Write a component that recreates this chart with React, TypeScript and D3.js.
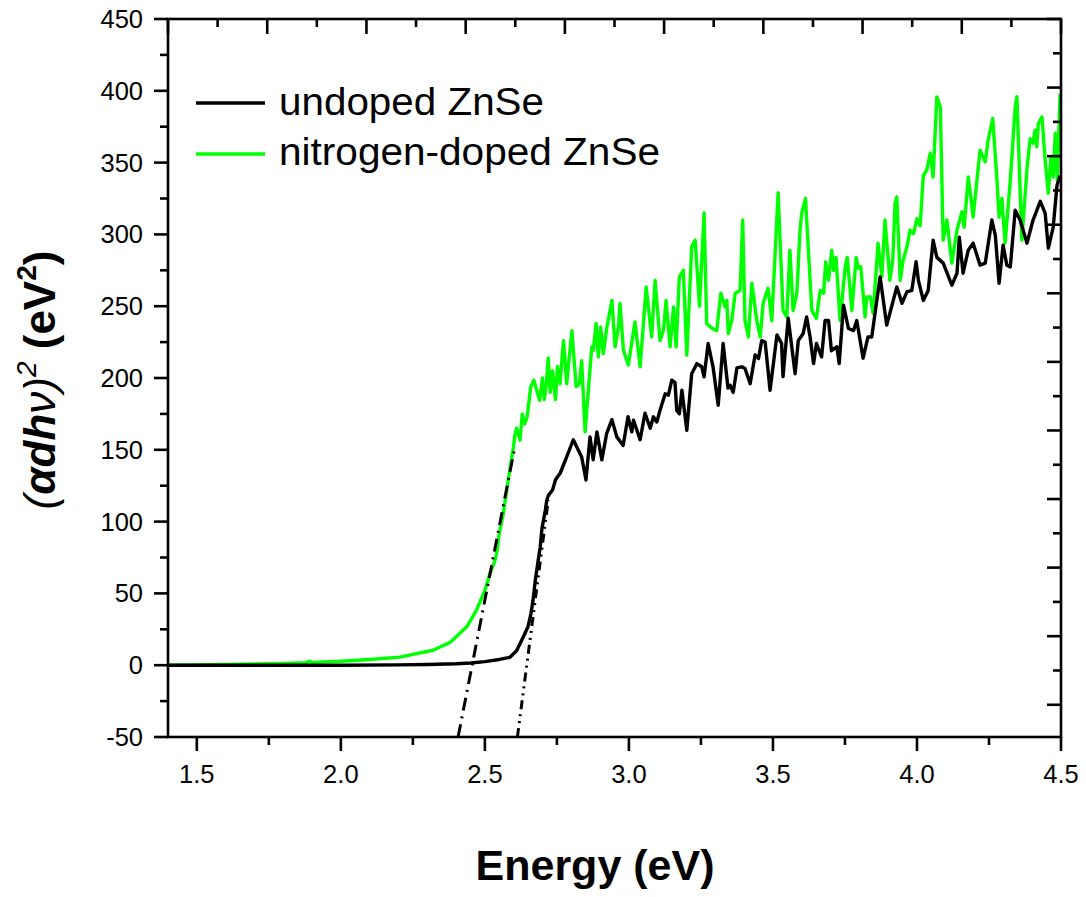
import React from "react";
import * as d3 from "d3";

// ---------- data ----------
const xTicks = [1.5, 2.0, 2.5, 3.0, 3.5, 4.0, 4.5];
const xTickLabels = ["1.5", "2.0", "2.5", "3.0", "3.5", "4.0", "4.5"];
const yTicks = [-50, 0, 50, 100, 150, 200, 250, 300, 350, 400, 450];

const undoped: [number, number][] = [
  [1.40, 0], [1.60, 0], [1.80, 0], [2.00, 0], [2.20, 0.2], [2.30, 0.5], [2.40, 1], [2.45, 1.5],
  [2.50, 2.5], [2.55, 4], [2.587, 5.5], [2.61, 10], [2.622, 15], [2.634, 20], [2.65, 27], [2.66, 36],
  [2.667, 45], [2.675, 59], [2.685, 73], [2.692, 82], [2.698, 95], [2.71, 108], [2.715, 115], [2.72, 118],
  [2.727, 120], [2.735, 122], [2.745, 129], [2.755, 132], [2.761, 133.5], [2.784, 145], [2.807, 157],
  [2.831, 147], [2.836, 145], [2.851, 129], [2.865, 159], [2.876, 143], [2.889, 162.5], [2.906, 143],
  [2.923, 161.5], [2.941, 171], [2.958, 159], [2.98, 153], [2.997, 173], [3.01, 162.5], [3.016, 170.6],
  [3.039, 157], [3.056, 175.5], [3.074, 165], [3.085, 173], [3.097, 169.4], [3.108, 177.6], [3.126, 189],
  [3.137, 188], [3.149, 198.5], [3.16, 197], [3.166, 177.6], [3.175, 175], [3.184, 191.5], [3.201, 163.6],
  [3.218, 203], [3.236, 210], [3.253, 207.8], [3.261, 200.8], [3.275, 224], [3.292, 207.8], [3.31, 181],
  [3.327, 224], [3.344, 193], [3.351, 195], [3.362, 190], [3.375, 207], [3.392, 207.8], [3.403, 206.6],
  [3.421, 196], [3.438, 216], [3.45, 213.6], [3.461, 226], [3.473, 225], [3.49, 191.5], [3.514, 230],
  [3.53, 224], [3.535, 201], [3.553, 241.6], [3.577, 203], [3.588, 226], [3.605, 231], [3.617, 242.5],
  [3.629, 228.6], [3.641, 210], [3.651, 224], [3.669, 214.7], [3.681, 240], [3.693, 240], [3.703, 219],
  [3.722, 221.7], [3.73, 210], [3.745, 250.7], [3.762, 234.5], [3.78, 233], [3.791, 240], [3.813, 213.8],
  [3.83, 228.6], [3.843, 228.6], [3.872, 270.4], [3.895, 236.8], [3.93, 263.4], [3.948, 252], [3.965, 260],
  [3.982, 261], [3.997, 281], [4.005, 268], [4.022, 254], [4.039, 261], [4.056, 296], [4.069, 284],
  [4.091, 280], [4.121, 264.6], [4.139, 273], [4.147, 298], [4.16, 273], [4.178, 289], [4.195, 293.9],
  [4.219, 278.6], [4.237, 280], [4.26, 310], [4.272, 299.4], [4.285, 266], [4.299, 292.5], [4.312, 278.6],
  [4.324, 277.4], [4.341, 316.9], [4.358, 310], [4.382, 293.9], [4.403, 310], [4.428, 323], [4.445, 314.8],
  [4.456, 290.4], [4.473, 305], [4.486, 334], [4.497, 341],
];

const nitrogenDoped: [number, number][] = [
  [1.40, 0], [1.50, 0.2], [1.60, 0.5], [1.70, 0.8], [1.80, 1.3], [1.88, 1.8], [1.89, 2.8], [1.90, 2.0],
  [2.00, 2.8], [2.10, 4], [2.205, 5.6], [2.25, 7.5], [2.32, 10.4], [2.38, 16], [2.437, 26.7], [2.47, 38],
  [2.50, 52], [2.518, 64], [2.535, 73], [2.541, 78], [2.55, 92], [2.564, 105.6], [2.581, 128.8],
  [2.599, 152], [2.604, 160], [2.61, 165], [2.622, 156.7], [2.63, 175], [2.638, 168], [2.647, 173],
  [2.659, 193.7], [2.67, 198.5], [2.69, 184.5], [2.70, 200], [2.706, 185], [2.713, 195], [2.72, 214],
  [2.727, 190], [2.735, 205], [2.745, 185], [2.752, 208], [2.761, 196], [2.773, 226], [2.784, 196],
  [2.802, 233], [2.817, 194], [2.828, 196], [2.836, 212], [2.848, 162.5], [2.871, 221.7], [2.877, 219.4],
  [2.886, 238], [2.894, 214.7], [2.902, 235.6], [2.911, 217], [2.923, 234.7], [2.941, 254], [2.952, 221.7],
  [2.964, 235.6], [2.969, 252], [2.981, 219.4], [2.998, 209], [3.021, 239], [3.039, 207.8], [3.06, 263.4],
  [3.079, 228.6], [3.091, 268], [3.108, 226], [3.12, 233.3], [3.129, 254], [3.143, 221.7], [3.155, 249.5],
  [3.164, 221.7], [3.175, 270.4], [3.189, 275], [3.201, 215.9], [3.218, 291.3], [3.23, 296], [3.245, 250],
  [3.261, 315], [3.27, 238], [3.288, 234.7], [3.305, 233], [3.319, 259], [3.334, 249.5], [3.34, 254],
  [3.345, 231], [3.357, 240], [3.369, 259], [3.386, 261], [3.395, 310], [3.403, 240], [3.415, 228.6],
  [3.427, 266], [3.444, 240], [3.456, 228.6], [3.466, 252], [3.483, 262.5], [3.496, 240], [3.518, 329],
  [3.535, 247], [3.548, 242.5], [3.559, 289], [3.57, 247], [3.583, 259], [3.594, 303], [3.6, 314.8],
  [3.613, 325], [3.635, 247], [3.651, 241.6], [3.664, 261], [3.676, 259], [3.683, 280.9], [3.693, 268],
  [3.704, 289], [3.71, 275], [3.719, 284], [3.733, 240], [3.751, 277.4], [3.758, 284], [3.774, 247],
  [3.789, 284], [3.796, 276.5], [3.805, 277.4], [3.82, 242.5], [3.826, 256.5], [3.838, 256.5], [3.848, 245],
  [3.865, 293.9], [3.878, 270.4], [3.889, 310], [3.906, 268], [3.916, 282], [3.924, 321.7], [3.93, 326],
  [3.942, 268], [3.952, 282], [3.965, 291], [3.976, 303], [3.988, 300.6], [4.0, 311], [4.011, 306],
  [4.022, 341], [4.034, 344.7], [4.046, 356.5], [4.056, 340], [4.069, 395.8], [4.081, 388.8], [4.091, 296],
  [4.104, 310], [4.121, 280], [4.139, 303], [4.156, 315.7], [4.164, 305], [4.178, 340], [4.187, 326],
  [4.195, 312], [4.219, 358.6], [4.237, 350.5], [4.247, 365.6], [4.263, 380.7], [4.277, 340], [4.285, 312],
  [4.295, 325], [4.306, 294], [4.324, 337.7], [4.341, 388.8], [4.347, 395.8], [4.364, 296], [4.382, 346],
  [4.393, 366.7], [4.403, 363.5], [4.41, 372.6], [4.416, 361], [4.421, 377], [4.434, 381.8], [4.445, 351.7],
  [4.456, 328.7], [4.465, 354], [4.473, 340], [4.48, 370.5], [4.487, 337.7], [4.497, 398],
];

// linear-fit extrapolations (band-gap tangents)
const dopedTangent: [number, number][] = [[2.407, -50], [2.605, 153]];
const undopedTangent: [number, number][] = [[2.613, -50], [2.72, 115]];

const legendLabels = ["undoped ZnSe", "nitrogen-doped ZnSe"];
const seriesColors = ["#000000", "#00ff00"];

// ---------- layout ----------
const W = 1086;
const H = 897;
const left = 168;
const right = 1061;
const top = 19;
const bottom = 737;
const FONT = "'Liberation Sans', Arial, Helvetica, sans-serif";

export default function App() {
  const x = d3.scaleLinear().domain([1.4, 4.5]).range([left, right]);
  const y = d3.scaleLinear().domain([-50, 450]).range([bottom, top]);
  const line = d3
    .line<[number, number]>()
    .x((d) => x(d[0]))
    .y((d) => y(d[1]));

  const xMinor = xTicks.slice(0, -1).map((t) => t + 0.25);
  const yMinor = yTicks.slice(0, -1).map((t) => t + 25);

  // top and right frame axes carry their own (unlabelled) tick spacing
  const topScale = d3.scaleLinear().domain([0, 18]).range([left, right]);
  const topTicks = d3.range(0, 19);
  const rightScale = d3.scaleLinear().domain([0, 20.94]).range([top, bottom]);
  const rightTicks = d3.range(0, 21);

  const axisW = 2.6;
  const legendWidths = [265, 381];

  return (
    <svg
      width={W}
      height={H}
      viewBox={`0 0 ${W} ${H}`}
      style={{ position: "absolute", left: 0, top: 0, background: "#fff" }}
      fontFamily={FONT}
    >
      <rect x={0} y={0} width={W} height={H} fill="#fff" />

      {/* data */}
      <path d={line(nitrogenDoped) || ""} fill="none" stroke={seriesColors[1]} strokeWidth={3.4} strokeLinejoin="round" />
      <path d={line(undoped) || ""} fill="none" stroke={seriesColors[0]} strokeWidth={3.4} strokeLinejoin="round" />

      {/* tangents */}
      <path d={line(dopedTangent) || ""} fill="none" stroke="#000" strokeWidth={3} strokeDasharray="13 6 2 6" strokeLinecap="butt" />
      <path d={line(undopedTangent) || ""} fill="none" stroke="#000" strokeWidth={3} strokeDasharray="9 5 2 5 2 5" strokeLinecap="butt" />

      {/* frame */}
      <rect x={left} y={top} width={right - left} height={bottom - top} fill="none" stroke="#000" strokeWidth={axisW} />

      {/* bottom axis ticks (outward) */}
      {xTicks.map((t) => (
        <line key={"xb" + t} x1={x(t)} x2={x(t)} y1={bottom} y2={bottom + 14} stroke="#000" strokeWidth={axisW} />
      ))}
      {xMinor.map((t) => (
        <line key={"xbm" + t} x1={x(t)} x2={x(t)} y1={bottom} y2={bottom + 8} stroke="#000" strokeWidth={axisW} />
      ))}
      {xTicks.map((t, i) => (
        <text key={"xl" + t} x={x(t)} y={783} textAnchor="middle" fontSize={25.5} fill="#000">
          {xTickLabels[i]}
        </text>
      ))}

      {/* left axis ticks (outward) */}
      {yTicks.map((t) => (
        <line key={"yl" + t} x1={left - 14} x2={left} y1={y(t)} y2={y(t)} stroke="#000" strokeWidth={axisW} />
      ))}
      {yMinor.map((t) => (
        <line key={"ylm" + t} x1={left - 8} x2={left} y1={y(t)} y2={y(t)} stroke="#000" strokeWidth={axisW} />
      ))}
      {yTicks.map((t) => (
        <text key={"ylab" + t} x={143} y={y(t) + 9} textAnchor="end" fontSize={25.5} fill="#000">
          {t}
        </text>
      ))}

      {/* top axis ticks (inward) */}
      {topTicks.map((k) => (
        <line
          key={"tt" + k}
          x1={topScale(k)}
          x2={topScale(k)}
          y1={top}
          y2={top + (k % 2 === 0 ? 15 : 8)}
          stroke="#000"
          strokeWidth={axisW}
        />
      ))}

      {/* right axis ticks (inward) */}
      {rightTicks.map((k) => (
        <line
          key={"rt" + k}
          x1={right}
          x2={right - (k % 2 === 0 ? 14 : 8)}
          y1={rightScale(k)}
          y2={rightScale(k)}
          stroke="#000"
          strokeWidth={axisW}
        />
      ))}

      {/* legend */}
      {legendLabels.map((lab, i) => (
        <g key={lab}>
          <line x1={196} x2={265} y1={103 + i * 51} y2={103 + i * 51} stroke={seriesColors[i]} strokeWidth={3.4} />
          <text
            x={279}
            y={115 + i * 50}
            fontSize={39}
            fill="#000"
            textLength={legendWidths[i]}
            lengthAdjust="spacingAndGlyphs"
          >
            {lab}
          </text>
        </g>
      ))}

      {/* axis titles */}
      <text x={595} y={880} textAnchor="middle" fontSize={43} fontWeight="bold" fill="#000">
        Energy (eV)
      </text>
      <text transform="translate(55,380) rotate(-90)" textAnchor="middle" fontSize={44} fill="#000">
        <tspan fontStyle="italic">(</tspan>
        <tspan fontStyle="italic" fontWeight="bold">αdh</tspan>
        <tspan fontStyle="italic">ν)</tspan>
        <tspan fontStyle="italic" fontSize={28} dy={-19}>2</tspan>
        <tspan fontWeight="bold" dy={19}> (eV</tspan>
        <tspan fontWeight="bold" fontSize={28} dy={-19}>2</tspan>
        <tspan fontWeight="bold" dy={19}>)</tspan>
      </text>
    </svg>
  );
}
